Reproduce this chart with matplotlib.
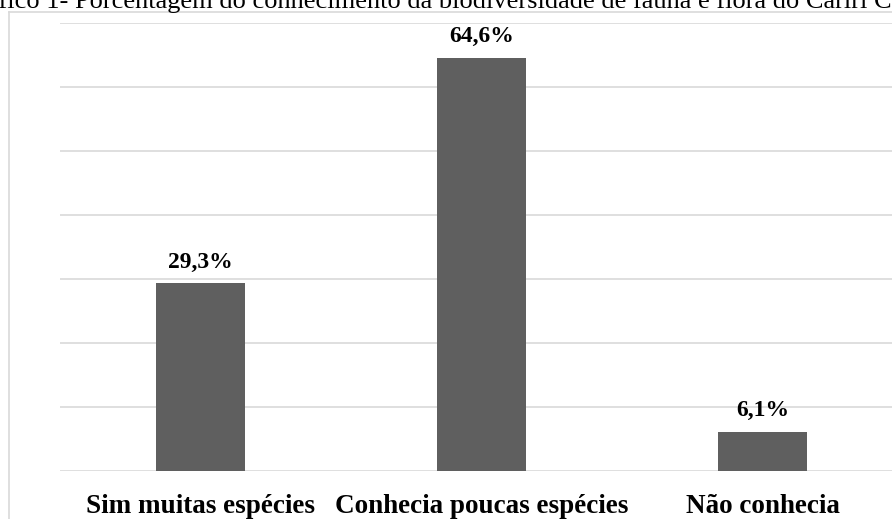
import matplotlib
matplotlib.use("Agg")
import matplotlib.pyplot as plt
from matplotlib.lines import Line2D

categories = ["Sim muitas espécies", "Conhecia poucas espécies", "Não conhecia"]
values = [29.3, 64.6, 6.1]
value_labels = ["29,3%", "64,6%", "6,1%"]
title = "Gráfico 1- Porcentagem do conhecimento da biodiversidade de fauna e flora do Cariri Cearense"

W, H = 892, 519
fig = plt.figure(figsize=(W / 100, H / 100), dpi=100)
fig.patch.set_facecolor("white")

plt.rcParams["font.family"] = ["Liberation Serif", "DejaVu Serif"]

# axes spans beyond right edge (cropped reference)
ax = fig.add_axes([60 / W, 48 / H, 843 / W, 448 / H])
ax.set_facecolor("none")
x = list(range(len(categories)))
ax.bar(x, values, width=0.316, color="#5f5f5f", zorder=3)
ax.set_xlim(-0.5, 2.5)
ax.set_ylim(0, 70)
ax.set_yticks(range(0, 71, 10))
ax.yaxis.grid(True, color="#d9d9d9", linewidth=1.2, zorder=0)
ax.tick_params(axis="y", left=False, labelleft=False)
ax.tick_params(axis="x", bottom=False, pad=13)
for s in ax.spines.values():
    s.set_visible(False)
ax.set_xticks(x)
ax.set_xticklabels(categories, fontsize=19.5, fontweight="bold")

for xi, v, lab in zip(x, values, value_labels):
    ax.annotate(lab, (xi, v), xytext=(0, 11.5), textcoords="offset points",
                ha="center", va="baseline", fontsize=17, fontweight="bold")

# outer chart border (light gray)
fig.add_artist(Line2D([9 / W, 9 / W], [0, (H - 12) / H], color="#d9d9d9",
                      linewidth=1.2, transform=fig.transFigure))
fig.add_artist(Line2D([9 / W, 1], [(H - 12) / H, (H - 12) / H], color="#d9d9d9",
                      linewidth=1.2, transform=fig.transFigure))

fig.text(-41 / W, (H - 8) / H, title, fontsize=19, ha="left", va="baseline")

fig.savefig("out.png", dpi=100, facecolor="white")
